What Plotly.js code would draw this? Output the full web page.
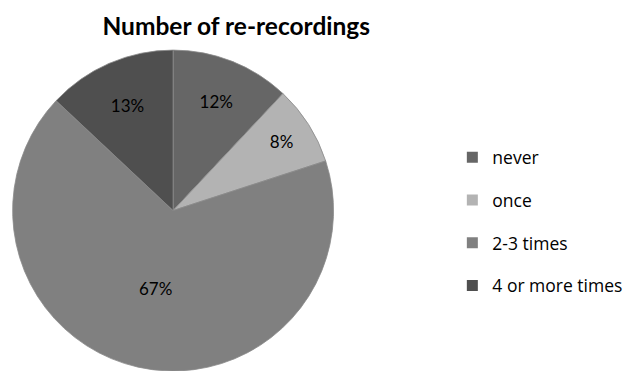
<!DOCTYPE html>
<html><head><meta charset="utf-8">
<script src="https://cdn.plot.ly/plotly-3.0.1.min.js"></script>
<style>html,body{margin:0;padding:0;background:#fff}#chart{width:630px;height:371px}</style>
</head><body><div id="chart"></div>
<script>
const categories = ["never", "once", "2-3 times", "4 or more times"];
const shares = [12, 8, 67, 13];
const sliceColors = ["#666666", "#b3b3b3", "#808080", "#4f4f4f"];

const pie = {
  type: "pie",
  labels: categories,
  values: shares,
  sort: false,
  direction: "clockwise",
  rotation: 0,
  textinfo: "percent",
  textposition: "inside",
  insidetextorientation: "horizontal",
  textfont: {family: "Lato, 'Open Sans', sans-serif", size: 17, color: "#000"},
  marker: {colors: sliceColors, line: {color: "#8a8a8a", width: 0.8}},
  domain: {x: [0.0175, 0.532], y: [0, 0.865]},
  showlegend: false,
  hoverinfo: "label+percent"
};

const legendTraces = categories.map((c, i) => ({
  type: "scatter", mode: "markers", x: [null], y: [null],
  name: c, legendgroup: "g" + i, showlegend: true,
  marker: {symbol: "square", size: 11, color: sliceColors[i]},
  hoverinfo: "skip"
}));

const layout = {
  width: 630, height: 371,
  margin: {l: 0, r: 0, t: 0, b: 0},
  paper_bgcolor: "#fff", plot_bgcolor: "#fff",
  title: {text: "<b>Number of re-recordings</b>", x: 0.375, xanchor: "center", y: 0.93, yanchor: "middle",
          font: {family: "Lato, 'Open Sans', sans-serif", size: 24.5, color: "#000"}},
  xaxis: {visible: false}, yaxis: {visible: false},
  legend: {x: 0.718, xanchor: "left", y: 0.403, yanchor: "middle", tracegroupgap: 17,
           font: {family: "'Open Sans', Lato, sans-serif", size: 17.5, color: "#000"},
           bgcolor: "rgba(0,0,0,0)"},
  showlegend: true
};

Plotly.newPlot("chart", [pie].concat(legendTraces), layout, {displayModeBar: false, staticPlot: true});
</script></body></html>
